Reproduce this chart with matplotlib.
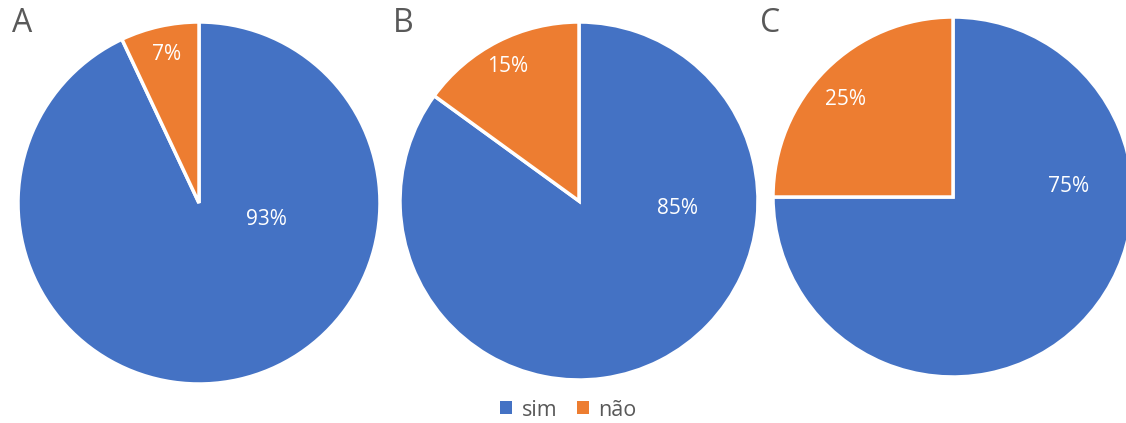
import matplotlib.pyplot as plt
from matplotlib.patches import Patch

plt.rcParams['font.family'] = ['Open Sans', 'DejaVu Sans']

# data
panels = ['A', 'B', 'C']
categories = ['sim', 'não']
sim_pct = [93, 85, 75]
nao_pct = [7, 15, 25]

colors = ['#4472C4', '#ED7D31']

W, H = 1126, 423
# pie centre (px from left, px from top) and radius in px
centres = [(199, 203, 181), (579, 201, 179), (953, 197, 180)]
# label offsets in radius units (sim, nao)
label_pos = [[(0.37, -0.09), (-0.18, 0.82)],
             [(0.55, -0.04), (-0.40, 0.75)],
             [(0.64, 0.06), (-0.60, 0.54)]]
letter_pos = [(22, 23), (403, 23), (770, 23)]

fig = plt.figure(figsize=(W / 100, H / 100), dpi=100)

for i in range(3):
    cx, cy, r = centres[i]
    ax = fig.add_axes([(cx - r) / W, (H - cy - r) / H, 2 * r / W, 2 * r / H])
    vals = [sim_pct[i], nao_pct[i]]
    wedges, _ = ax.pie(vals, colors=colors, startangle=90, counterclock=False,
                       radius=1, wedgeprops=dict(edgecolor='white', linewidth=2.5))
    for k in range(2):
        lx, ly = label_pos[i][k]
        ax.text(lx, ly, '%d%%' % vals[k], color='white', fontsize=15,
                ha='center', va='center')
    ax.set_xlim(-1, 1)
    ax.set_ylim(-1, 1)
    ax.set_aspect('equal')
    ax.axis('off')
    fig.text(letter_pos[i][0] / W, 1 - letter_pos[i][1] / H, panels[i],
             fontsize=23, color='#595959', ha='center', va='center')

handles = [Patch(facecolor=colors[0], label=categories[0]),
           Patch(facecolor=colors[1], label=categories[1])]
fig.legend(handles=handles, loc='center', bbox_to_anchor=(0.505, 1 - 410 / H),
           ncol=2, frameon=False, fontsize=15.5, handlelength=0.55, handleheight=0.55,
           handletextpad=0.45, columnspacing=0.9, labelcolor='#595959')

fig.savefig('out.png', dpi=100)
